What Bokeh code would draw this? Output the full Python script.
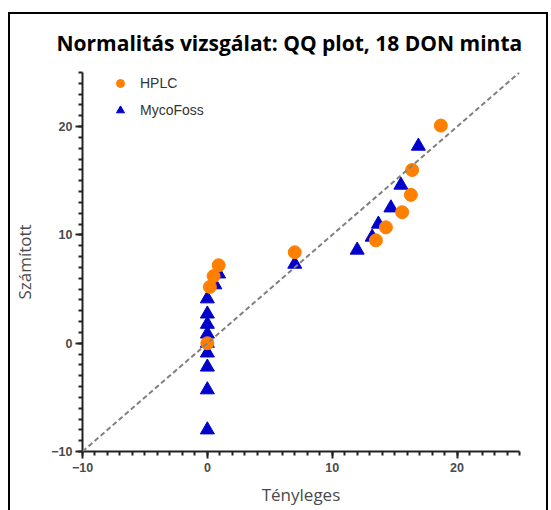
from bokeh.plotting import figure
from bokeh.models import Range1d, FixedTicker, Legend, LegendItem, Slope, ColumnDataSource, Title
from bokeh.embed import file_html
from bokeh.resources import INLINE

# Data
hplc_x = [0.0, 0.2, 0.5, 0.9, 7.0, 13.5, 14.3, 15.6, 16.3, 16.4, 18.7]
hplc_y = [0.0, 5.2, 6.2, 7.2, 8.4, 9.5, 10.7, 12.1, 13.7, 16.0, 20.1]

myco_x = [0.0, 0.0, 0.0, 0.0, 0.0, 0.0, 0.0, 0.0, 0.0, 0.6, 0.9, 7.0, 12.0, 13.2, 13.7, 14.7, 15.5, 16.9]
myco_y = [-8.0, -4.3, -2.2, -0.9, 0.0, 0.85, 1.75, 2.7, 4.1, 5.4, 6.4, 7.3, 8.6, 9.8, 11.0, 12.5, 14.6, 18.2]

x_major = [-10, 0, 10, 20]
y_major = [-10, 0, 10, 20]
x_minor = [v for v in range(-10, 26)]
y_minor = [v for v in range(-10, 26)]

title_text = "Normalitás vizsgálat: QQ plot, 18 DON minta"
x_title = "Tényleges"
y_title = "Számított"

p = figure(width=540, height=498, output_backend="svg", toolbar_location=None,
           x_range=Range1d(-10, 25), y_range=Range1d(-10, 25),
           min_border_left=72, min_border_right=31, min_border_top=58, min_border_bottom=61)
p.margin = (12, 0, 0, 8)
p.styles = {"border-top": "2px solid black", "border-left": "2px solid black",
            "border-right": "2px solid black", "box-sizing": "border-box"}
p.outline_line_color = None
p.grid.visible = False
p.background_fill_color = "white"
p.border_fill_color = "white"

p.title.text = title_text
p.title.align = "left"
p.title.text_font = "Open Sans"
p.title.text_font_style = "bold"
p.title.text_font_size = "21px"
p.title.text_color = "black"
p.title.offset = -26
p.title.standoff = 0

# spacer between title and plot area
p.add_layout(Title(text=" ", text_font_size="12.5px", standoff=0), "above")

# identity reference line
p.add_layout(Slope(gradient=1, y_intercept=0, line_color="#808080", line_width=2, line_dash="5 3"))

src_h = ColumnDataSource(dict(x=hplc_x, y=hplc_y))
src_m = ColumnDataSource(dict(x=myco_x, y=myco_y))
r_m = p.scatter("x", "y", source=src_m, marker="triangle", size=14, fill_color="#0000CC",
                line_color="#0000CC", line_width=1)
r_h = p.scatter("x", "y", source=src_h, marker="circle", size=13, fill_color="#FF8000",
                line_color="#FF8000", line_width=1)

for ax, major, minor in ((p.xaxis[0], x_major, x_minor), (p.yaxis[0], y_major, y_minor)):
    ax.ticker = FixedTicker(ticks=major, minor_ticks=minor)
    ax.axis_line_width = 2
    ax.axis_line_color = "#222222"
    ax.major_tick_line_width = 2
    ax.major_tick_line_color = "#222222"
    ax.minor_tick_line_width = 2
    ax.minor_tick_line_color = "#222222"
    ax.major_tick_out = 7
    ax.major_tick_in = 0
    ax.minor_tick_out = 4
    ax.minor_tick_in = 0
    ax.major_label_text_font = "Liberation Sans"
    ax.major_label_text_font_style = "bold"
    ax.major_label_text_font_size = "12.5px"
    ax.major_label_text_color = "#4a4a4a"
    ax.axis_label_text_font = "Open Sans"
    ax.axis_label_text_font_style = "normal"
    ax.axis_label_text_font_size = "17px"
    ax.axis_label_text_color = "#4a4a4a"

p.xaxis[0].axis_label = x_title
p.yaxis[0].axis_label = y_title
p.xaxis[0].major_label_standoff = 4
p.yaxis[0].major_label_standoff = 3
p.xaxis[0].axis_label_standoff = 8
p.yaxis[0].axis_label_standoff = 12

legend = Legend(items=[LegendItem(label="HPLC", renderers=[r_h]),
                       LegendItem(label="MycoFoss", renderers=[r_m])],
                location=(28, 331), padding=0, margin=0, spacing=7,
                border_line_color=None, background_fill_alpha=0,
                label_text_font="Liberation Sans", label_text_font_size="14px",
                label_text_color="#333333", label_standoff=10)
p.add_layout(legend)

open("out.html", "w").write(file_html(p, INLINE))
